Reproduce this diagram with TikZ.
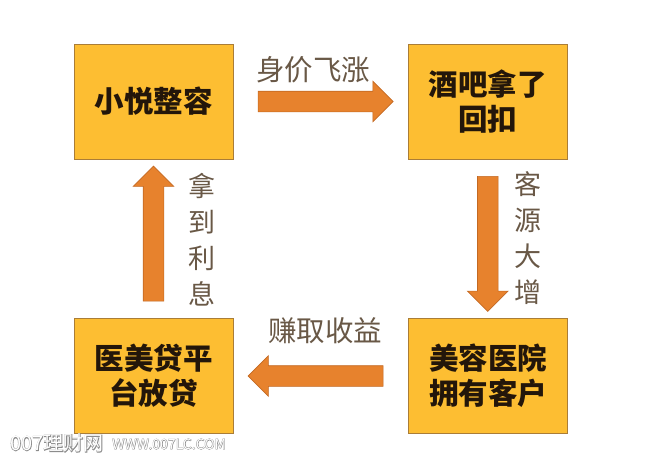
\documentclass[tikz,border=0pt]{standalone}
\usepackage{fontspec}
\setmainfont{Noto Sans CJK SC}
\newfontfamily\wmthick[FakeBold=5]{Noto Sans CJK SC}
\newfontfamily\wmthin{Noto Sans CJK SC}
\usetikzlibrary{positioning,shapes.arrows,calc}
\definecolor{boxfill}{RGB}{253,190,50}
\definecolor{boxedge}{RGB}{170,125,55}
\definecolor{boxtext}{RGB}{35,22,10}
\definecolor{arrfill}{RGB}{231,130,45}
\definecolor{arredge}{RGB}{195,105,35}
\definecolor{lbltext}{RGB}{105,88,70}
\tikzset{
  stage/.style={rectangle,draw=boxedge,line width=1pt,fill=boxfill,minimum width=159pt,minimum height=115pt,inner sep=0pt,align=center,font=\fontsize{29.5}{35}\selectfont\bfseries,text=boxtext},
  flowarr/.style={single arrow,draw=arredge,fill=arrfill,line width=0.6pt,single arrow head extend=10pt,minimum height=135pt,minimum width=40pt,inner xsep=0pt,inner ysep=10pt},
  lbl/.style={font=\fontsize{28.5}{36}\selectfont,text=lbltext,inner sep=0pt,align=center},
  vlbl/.style={lbl,font=\fontsize{27}{36}\selectfont},
}
\begin{document}
\begin{tikzpicture}[x=1pt,y=-1pt]
  \fill[white] (0,0) rectangle (645,464);
  \useasboundingbox (0,0) rectangle (645,464);
  % the four stages
  \node[stage] (xiaoyue) at (153.5,101.5) {小悦整容};
  \node[stage] (bar) at (487.5,101.5) {酒吧拿了\\回扣};
  \node[stage] (clinic) at (488,376) {美容医院\\拥有客户};
  \node[stage] (loan) at (153.5,376) {医美贷平\\台放贷};
  % block arrows between them
  \node[flowarr] (aTop) at ($(xiaoyue.east)!0.5!(bar.west)$) {};
  \node[flowarr,rotate=-90] (aRight) at ($(bar.south)!0.5!(clinic.north)$) {};
  \node[flowarr,rotate=180] (aBottom) at ($(clinic.west)!0.5!(loan.east)$) {};
  \node[flowarr,rotate=90] (aLeft) at ($(loan.north)!0.5!(xiaoyue.south)$) {};
  \node[lbl] (lTop) at (313,70) {身价飞涨};
  \node[vlbl] (lRight) at (528,238) {客\\源\\大\\增};
  \node[lbl] (lBottom) at (325,331) {赚取收益};
  \node[vlbl] (lLeft) at (202,240) {拿\\到\\利\\息};
  % watermark
  \node[anchor=west,inner sep=0pt,text=black!45,font=\wmthick\fontsize{20}{20}\selectfont] (wmA) at (10,443) {007理财网};
  \node[anchor=west,inner sep=0pt,text=white,font=\wmthin\fontsize{20}{20}\selectfont] (wmB) at (10,443) {007理财网};
  \node[anchor=west,inner sep=0pt,text=black!45,font=\wmthick\fontsize{14}{14}\selectfont] (wmC) at (112,444) {WWW.007LC.COM};
  \node[anchor=west,inner sep=0pt,text=white,font=\wmthin\fontsize{14}{14}\selectfont] (wmD) at (112,444) {WWW.007LC.COM};
\end{tikzpicture}
\end{document}
